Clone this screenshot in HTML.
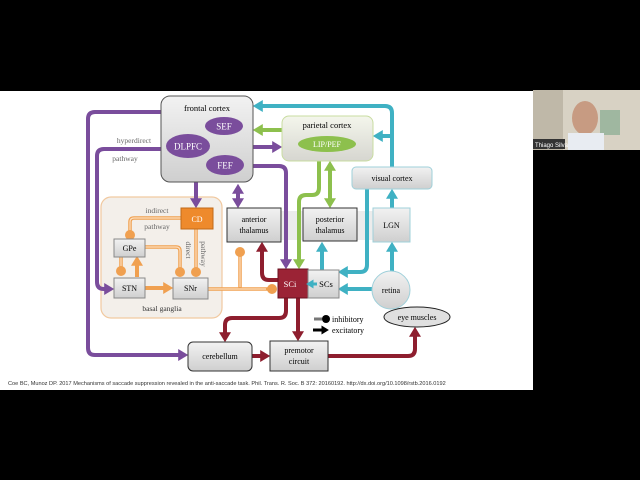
<!DOCTYPE html>
<html><head><meta charset="utf-8"><style>
html,body{margin:0;padding:0;background:#000;width:640px;height:480px;overflow:hidden}
svg{display:block}
text{font-family:"Liberation Serif",serif}
</style></head><body>
<svg width="640" height="480" viewBox="0 0 640 480" xmlns="http://www.w3.org/2000/svg">
<defs>
<linearGradient id="g" x1="0" y1="0" x2="0" y2="1"><stop offset="0" stop-color="#f2f2f2"/><stop offset="1" stop-color="#cfcfcf"/></linearGradient>
<linearGradient id="gp" x1="0" y1="0" x2="0" y2="1"><stop offset="0" stop-color="#f4f6ec"/><stop offset="1" stop-color="#d6d6d0"/></linearGradient>
<marker id="ap" markerWidth="2.5" markerHeight="3" refX="1.2" refY="1.5" orient="auto" markerUnits="strokeWidth"><path d="M0,0L2.5,1.5L0,3z" fill="#7a4d9c"/></marker>
<marker id="ac" markerWidth="2.5" markerHeight="3" refX="1.2" refY="1.5" orient="auto" markerUnits="strokeWidth"><path d="M0,0L2.5,1.5L0,3z" fill="#3fb1c3"/></marker>
<marker id="ag" markerWidth="2.5" markerHeight="3" refX="1.2" refY="1.5" orient="auto" markerUnits="strokeWidth"><path d="M0,0L2.5,1.5L0,3z" fill="#8dc04d"/></marker>
<marker id="ar" markerWidth="2.5" markerHeight="3" refX="1.2" refY="1.5" orient="auto" markerUnits="strokeWidth"><path d="M0,0L2.5,1.5L0,3z" fill="#8e1e2e"/></marker>
<marker id="ao" markerWidth="2.5" markerHeight="3" refX="1.2" refY="1.5" orient="auto" markerUnits="strokeWidth"><path d="M0,0L2.5,1.5L0,3z" fill="#f0a050"/></marker>
<marker id="ak" markerWidth="2.5" markerHeight="3" refX="1.2" refY="1.5" orient="auto" markerUnits="strokeWidth"><path d="M0,0L2.5,1.5L0,3z" fill="#000"/></marker>
</defs>
<rect x="0" y="91" width="533" height="299" fill="#fff"/>
<rect x="533" y="90" width="107" height="60" fill="#d8d2c4"/>
<rect x="533" y="90" width="30" height="60" fill="#bfb8a8"/>
<rect x="600" y="110" width="20" height="25" fill="#9fb7a0"/>
<ellipse cx="585" cy="118" rx="13" ry="17" fill="#c79b82"/>
<rect x="568" y="133" width="36" height="17" fill="#e8ecf2"/>
<rect x="533" y="139" width="32" height="10" fill="#333"/>
<text x="535" y="147" font-size="6" fill="#fff" style="font-family:'Liberation Sans',sans-serif">Thiago Silva</text>

<rect x="280" y="211" width="95" height="29" fill="#ececec"/>
<rect x="101" y="197" width="121" height="121" rx="10" fill="#f3efea" stroke="#f1c9a0" stroke-width="1.2"/>

<g fill="none" stroke-width="4" stroke-linecap="butt" stroke-linejoin="round">
<path d="M161,112 H95 Q88,112 88,119 V348 Q88,355 95,355 H183" stroke="#7a4d9c" marker-end="url(#ap)"/>
<path d="M161,149 H104 Q97,149 97,156 V282 Q97,289 104,289 H109" stroke="#7a4d9c" marker-end="url(#ap)"/>
<path d="M196,182 V203" stroke="#7a4d9c" marker-end="url(#ap)"/>
<path d="M253,147 H277" stroke="#7a4d9c" marker-end="url(#ap)"/>
<path d="M253,166 H279 Q286,166 286,173 V264" stroke="#7a4d9c" marker-end="url(#ap)"/>
<path d="M238,196 V203" stroke="#7a4d9c" marker-end="url(#ap)"/>
<path d="M238,196 V189" stroke="#7a4d9c" marker-end="url(#ap)"/>
<path d="M392,167 V113 Q392,106 385,106 H258" stroke="#3fb1c3" marker-end="url(#ac)"/>
<path d="M392,136 H378" stroke="#3fb1c3" marker-end="url(#ac)"/>
<path d="M367,189 V265 Q367,272 360,272 H343" stroke="#3fb1c3" marker-end="url(#ac)"/>
<path d="M392,208 V194" stroke="#3fb1c3" marker-end="url(#ac)"/>
<path d="M392,271 V247" stroke="#3fb1c3" marker-end="url(#ac)"/>
<path d="M372,289 H343" stroke="#3fb1c3" marker-end="url(#ac)"/>
<path d="M322,270 V247" stroke="#3fb1c3" marker-end="url(#ac)"/>
<path d="M282,130 H258" stroke="#8dc04d" marker-end="url(#ag)"/>
<path d="M319,161 V188 Q319,195 312,195 H306 Q299,195 299,202 V264" stroke="#8dc04d" marker-end="url(#ag)"/>
<path d="M330,185 V203" stroke="#8dc04d" marker-end="url(#ag)"/>
<path d="M330,185 V166" stroke="#8dc04d" marker-end="url(#ag)"/>
<path d="M278,280 H269 Q262,280 262,273 V247" stroke="#8e1e2e" marker-end="url(#ar)"/>
<path d="M298,298 V336" stroke="#8e1e2e" marker-end="url(#ar)"/>
<path d="M286,298 V311 Q286,318 279,318 H232 Q225,318 225,325 V337" stroke="#8e1e2e" marker-end="url(#ar)"/>
<path d="M252,356 H265" stroke="#8e1e2e" marker-end="url(#ar)"/>
<path d="M328,356 H408 Q415,356 415,349 V332" stroke="#8e1e2e" marker-end="url(#ar)"/>
<g stroke="#f0a050" stroke-width="3.5">
<path d="M181,218 H134 Q130,218 130,222 V234"/>
<path d="M196,229 V270"/>
<path d="M145,247 H176 Q180,247 180,251 V270"/>
<path d="M121,257 V270"/>
<path d="M208,289 H268"/>
<path d="M240,289 V254"/>
</g>
<g stroke="#fde0c0" stroke-width="1.2">
<path d="M181,218 H134 Q130,218 130,222 V234"/>
<path d="M196,229 V268"/>
<path d="M145,247 H176 Q180,247 180,251 V268"/>
<path d="M121,257 V268"/>
<path d="M208,289 H266"/>
<path d="M240,287 V254"/>
</g>
<path d="M137,277 V261" stroke="#f0a050" marker-end="url(#ao)"/>
<path d="M145,288 H168" stroke="#f0a050" marker-end="url(#ao)"/>
</g>
<g fill="#f0a050">
<circle cx="130" cy="235" r="5"/><circle cx="196" cy="272" r="5"/><circle cx="180" cy="272" r="5"/>
<circle cx="121" cy="271" r="5"/><circle cx="272" cy="289" r="5"/><circle cx="240" cy="252" r="5"/>
</g>

<rect x="161" y="96" width="92" height="86" rx="9" fill="url(#g)" stroke="#555" stroke-width="1"/>
<text x="207" y="111" font-size="8.5" text-anchor="middle">frontal cortex</text>
<ellipse cx="224" cy="126" rx="19" ry="9" fill="#7a4d9c"/><text x="224" y="129.5" font-size="9" fill="#fff" text-anchor="middle">SEF</text>
<ellipse cx="188" cy="146" rx="22" ry="12" fill="#7a4d9c"/><text x="188" y="149.5" font-size="9" fill="#fff" text-anchor="middle">DLPFC</text>
<ellipse cx="225" cy="165" rx="19" ry="10" fill="#7a4d9c"/><text x="225" y="168.5" font-size="9" fill="#fff" text-anchor="middle">FEF</text>

<rect x="282" y="116" width="91" height="45" rx="7" fill="url(#gp)" stroke="#c8dca0" stroke-width="1"/>
<text x="327" y="128" font-size="8.5" text-anchor="middle">parietal cortex</text>
<ellipse cx="327" cy="144" rx="29" ry="8" fill="#8dc04d"/><text x="327" y="147" font-size="8" fill="#fff" text-anchor="middle">LIP/PEF</text>

<rect x="352" y="167" width="80" height="22" rx="4" fill="url(#g)" stroke="#9fd0da" stroke-width="1"/>
<text x="392" y="181" font-size="8" text-anchor="middle">visual cortex</text>

<rect x="227" y="208" width="54" height="34" fill="url(#g)" stroke="#333" stroke-width="1"/>
<text x="254" y="222" font-size="8" text-anchor="middle">anterior</text><text x="254" y="233" font-size="8" text-anchor="middle">thalamus</text>
<rect x="303" y="208" width="54" height="33" fill="url(#g)" stroke="#333" stroke-width="1"/>
<text x="330" y="222" font-size="8" text-anchor="middle">posterior</text><text x="330" y="233" font-size="8" text-anchor="middle">thalamus</text>
<rect x="373" y="208" width="37" height="34" fill="url(#g)" stroke="#9fd0da" stroke-width="1"/>
<text x="391.5" y="228" font-size="8" text-anchor="middle">LGN</text>

<rect x="278" y="269" width="30" height="29" fill="#9b2335" stroke="#6a1020" stroke-width="1"/>
<text x="290" y="287" font-size="8.5" fill="#fff" text-anchor="middle">SCi</text>
<rect x="308" y="270" width="31" height="28" fill="url(#g)" stroke="#888" stroke-width="1"/>
<text x="326" y="287" font-size="8.5" text-anchor="middle">SCs</text>
<path d="M317,284 H310" stroke="#3fb1c3" stroke-width="3" marker-end="url(#ac)"/>

<circle cx="391" cy="290" r="19" fill="url(#g)" stroke="#9fd0da" stroke-width="1"/>
<text x="391" y="293" font-size="8" text-anchor="middle">retina</text>
<ellipse cx="417" cy="317" rx="33" ry="10" fill="#e0e0e0" stroke="#222" stroke-width="1"/>
<text x="417" y="320" font-size="8" text-anchor="middle">eye muscles</text>

<rect x="181" y="208" width="32" height="21" fill="#ee8a2c" stroke="#c06a18" stroke-width="1"/>
<text x="197" y="222" font-size="8" fill="#fff" text-anchor="middle">CD</text>
<rect x="114" y="239" width="31" height="18" fill="url(#g)" stroke="#888" stroke-width="1"/>
<text x="129.5" y="251" font-size="8" text-anchor="middle">GPe</text>
<rect x="114" y="278" width="31" height="20" fill="url(#g)" stroke="#888" stroke-width="1"/>
<text x="129.5" y="291" font-size="8" text-anchor="middle">STN</text>
<rect x="173" y="278" width="35" height="21" fill="url(#g)" stroke="#888" stroke-width="1"/>
<text x="190.5" y="291" font-size="8" text-anchor="middle">SNr</text>
<text x="162" y="311" font-size="7.5" fill="#333" text-anchor="middle">basal ganglia</text>
<text x="157" y="213" font-size="7.5" fill="#666" text-anchor="middle">indirect</text>
<text x="157" y="229" font-size="7.5" fill="#666" text-anchor="middle">pathway</text>
<text transform="translate(186,250) rotate(90)" font-size="7.5" fill="#666" text-anchor="middle">direct</text>
<text transform="translate(201,254) rotate(90)" font-size="7.5" fill="#666" text-anchor="middle">pathway</text>
<text x="134" y="143" font-size="7.5" fill="#666" text-anchor="middle">hyperdirect</text>
<text x="125" y="161" font-size="7.5" fill="#666" text-anchor="middle">pathway</text>

<rect x="188" y="342" width="64" height="29" rx="5" fill="url(#g)" stroke="#333" stroke-width="1"/>
<text x="220" y="359" font-size="8" text-anchor="middle">cerebellum</text>
<rect x="270" y="341" width="58" height="30" fill="url(#g)" stroke="#333" stroke-width="1"/>
<text x="299" y="353" font-size="8" text-anchor="middle">premotor</text><text x="299" y="364" font-size="8" text-anchor="middle">circuit</text>

<path d="M314,319 H322" stroke="#777" stroke-width="3"/><circle cx="326" cy="319" r="4" fill="#000"/>
<text x="332" y="322" font-size="8">inhibitory</text>
<path d="M313,330 H325" stroke="#000" stroke-width="3" marker-end="url(#ak)"/>
<text x="332" y="333" font-size="8">excitatory</text>

<text x="8" y="385" font-size="5.6" fill="#333" style="font-family:'Liberation Sans',sans-serif">Coe BC, Munoz DP. 2017 Mechanisms of saccade suppression revealed in the anti-saccade task. Phil. Trans. R. Soc. B 372: 20160192. http://dx.doi.org/10.1098/rstb.2016.0192</text>
</svg>
</body></html>
